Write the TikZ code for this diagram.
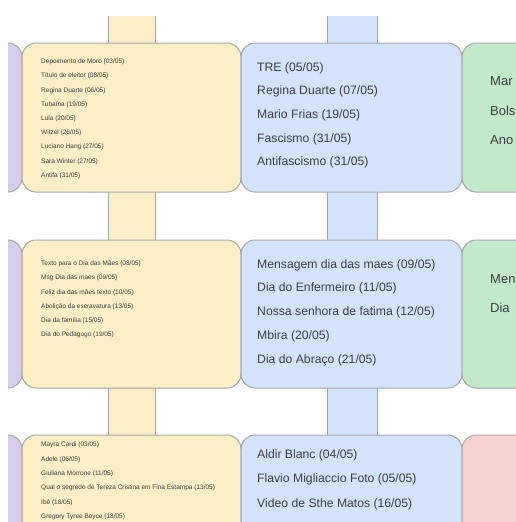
\documentclass[tikz,border=0pt]{standalone}
\usepackage{fontspec}
\setmainfont{Liberation Sans}
\usetikzlibrary{positioning}
\definecolor{BoardYellow}{HTML}{FCEFC6}
\definecolor{BoardBlue}{HTML}{D3E3FC}
\definecolor{BoardGreen}{HTML}{C1E9CA}
\definecolor{BoardPurple}{HTML}{D8CEEB}
\definecolor{BoardRed}{HTML}{F8D2D1}
\definecolor{BoardEdge}{HTML}{A4A6A8}
\definecolor{BoardInk}{HTML}{3C4043}

\begin{document}
\begin{tikzpicture}[x=1pt,y=-1pt,
  card/.style={draw=BoardEdge,line width=1pt,rounded corners=14pt},
  small/.style={anchor=west,inner sep=0pt,text=BoardInk,font=\fontsize{6.5}{7}\selectfont},
  big/.style={anchor=west,inner sep=0pt,text=BoardInk,font=\fontsize{12.2}{14}\selectfont},
  huge/.style={anchor=west,inner sep=0pt,text=BoardInk,font=\fontsize{13}{15}\selectfont}]
\useasboundingbox (0,0) rectangle (516,522);
\begin{scope}
\clip (8,16) rectangle (516,522);
% vertical strips behind the cards
\foreach \a/\b/\c in {108/155/BoardYellow,327/377/BoardBlue}{
  \fill[\c] (\a,10) rectangle (\b,530);
  \draw[BoardEdge,line width=1pt] (\a,10)--(\a,530) (\b,10)--(\b,530);}
% one row of cards
\foreach \t/\u/\c in {43/192/BoardGreen,240/388/BoardGreen,435/620/BoardRed}{
  \filldraw[card,fill=BoardPurple] (-100,\t) rectangle (22,\u);
  \filldraw[card,fill=BoardYellow] (22,\t) rectangle (241,\u);
  \filldraw[card,fill=BoardBlue] (241,\t) rectangle (462,\u);
  \filldraw[card,fill=\c] (462,\t) rectangle (620,\u);}

% yellow column
\foreach \s [count=\i] in {{Depoimento de Moro (03/05)},{Título de eleitor (08/05)},{Regina Duarte (06/05)},{Tubaína (19/05)},{Lula (20/05)},{Witzel  (26/05)},{Luciano Hang (27/05)},{Sara Winter (27/05)},{Antifa (31/05)}}
  \node[small] (ya\i) at (41,{62+14.2*(\i-1)}) {\s};
\foreach \s [count=\i] in {{Texto para o Dia das Mães (08/05)},{Msg Dia das maes (09/05)},{Feliz dia das mães texto (10/05)},{Abolição da escravatura (13/05)},{Dia da família (15/05)},{Dia do Pedagogo (19/05)}}
  \node[small] (yb\i) at (41,{264+14.2*(\i-1)}) {\s};
\foreach \s [count=\i] in {{Mayra Cardi (03/05)},{Adele (06/05)},{Giuliana Morrone (11/05)},{Qual o segredo de Tereza Cristina em Fina Estampa (13/05)},{Ibê (18/05)},{Gregory Tyree Boyce (18/05)}}
  \node[small] (yc\i) at (41,{445+14.4*(\i-1)}) {\s};

% blue column
\foreach \s [count=\i] in {{TRE (05/05)},{Regina Duarte (07/05)},{Mario Frias (19/05)},{Fascismo (31/05)},{Antifascismo (31/05)}}
  \node[big] (ba\i) at (257,{68+23.7*(\i-1)}) {\s};
\foreach \s [count=\i] in {{Mensagem dia das maes (09/05)},{Dia do Enfermeiro (11/05)},{Nossa senhora de fatima (12/05)},{Mbira (20/05)},{Dia do Abraço (21/05)}}
  \node[big] (bb\i) at (257,{265+23.8*(\i-1)}) {\s};
\foreach \s [count=\i] in {{Aldir Blanc (04/05)},{Flavio Migliaccio Foto (05/05)},{Video de Sthe Matos (16/05)}}
  \node[big] (bc\i) at (257,{455+24.5*(\i-1)}) {\s};

% green column (cut off)
\foreach \s [count=\i] in {Mar,Bols,Ano}
  \node[huge] (ga\i) at (490,{81+29.5*(\i-1)}) {\s};
\foreach \s [count=\i] in {Men,Dia}
  \node[huge] (gb\i) at (490,{279+29*(\i-1)}) {\s};
\end{scope}
\end{tikzpicture}
\end{document}
